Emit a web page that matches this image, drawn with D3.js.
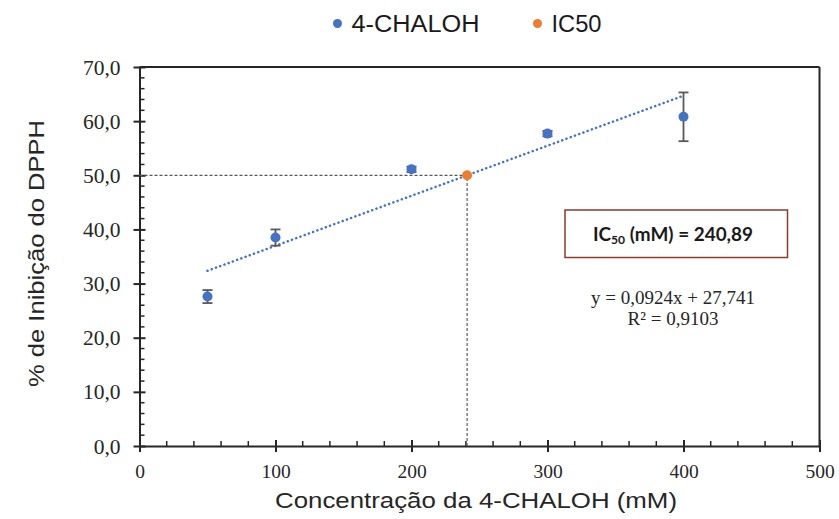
<!DOCTYPE html>
<html>
<head>
<meta charset="utf-8">
<script src="https://cdn.jsdelivr.net/npm/d3@7"></script>
<style>
  html, body { margin: 0; padding: 0; background: #fff; }
  svg { display: block; }
</style>
</head>
<body>
<svg id="chart" width="839" height="519"></svg>
<script>
// Concentration (mM) and % DPPH inhibition, with standard deviations
const concentrations = [50, 100, 200, 300, 400];
const inhibition = [27.6, 38.5, 51.1, 57.7, 60.8];
const errors = [1.2, 1.5, 0.5, 0.5, 4.5];

// Linear fit y = a x + b and the derived IC50
const slope = 0.0924;
const intercept = 27.741;
const rSquared = 0.9103;
const ic50 = 240.89;
const ic50Value = 50;

const xTicks = [0, 100, 200, 300, 400, 500];
const yTicks = [0, 10, 20, 30, 40, 50, 60, 70];

const seriesNames = ["4-CHALOH", "IC50"];
const seriesColors = ["#4472C4", "#ED7D31"];

const svg = d3.select("#chart");
const plotLeft = 139.5, plotRight = 819.5, plotTop = 67, plotBottom = 446;

const x = d3.scaleLinear().domain([0, 500]).range([plotLeft, plotRight]);
const y = d3.scaleLinear().domain([0, 70]).range([plotBottom, plotTop]);

const axisColor = "#262626";
const serif = "'Liberation Serif', 'Times New Roman', serif";
const sans = "'Liberation Sans', Arial, sans-serif";
const comma = v => String(v).replace(".", ",");

// Frame: top and right borders
svg.append("line").attr("x1", plotLeft).attr("x2", plotRight).attr("y1", plotTop).attr("y2", plotTop)
  .attr("stroke", axisColor).attr("stroke-width", 2);
svg.append("line").attr("x1", plotRight).attr("x2", plotRight).attr("y1", plotTop).attr("y2", plotBottom)
  .attr("stroke", axisColor).attr("stroke-width", 2);

// Minor ticks (inside)
const xMinor = d3.range(0, 501, 20).filter(v => v % 100 !== 0);
svg.append("g").selectAll("line").data(xMinor).join("line")
  .attr("x1", d => x(d)).attr("x2", d => x(d))
  .attr("y1", plotBottom).attr("y2", plotBottom - 5)
  .attr("stroke", axisColor).attr("stroke-width", 1.5);
const yMinor = d3.range(0, 70.01, 2).filter(v => v % 10 !== 0);
svg.append("g").selectAll("line").data(yMinor).join("line")
  .attr("x1", plotLeft).attr("x2", plotLeft + 5)
  .attr("y1", d => y(d)).attr("y2", d => y(d))
  .attr("stroke", axisColor).attr("stroke-width", 1.5);

// Axes with crossing major ticks
const fmtY = d => d.toFixed(1).replace(".", ",");
const xAxis = svg.append("g").attr("transform", `translate(0,${plotBottom})`)
  .call(d3.axisBottom(x).tickValues(xTicks).tickSizeInner(12).tickSizeOuter(0).tickPadding(2).tickFormat(d3.format("d")));
xAxis.selectAll(".tick line").attr("y1", -6).attr("y2", 6);
const yAxis = svg.append("g").attr("transform", `translate(${plotLeft},0)`)
  .call(d3.axisLeft(y).tickValues(yTicks).tickSizeInner(12).tickSizeOuter(0).tickPadding(2).tickFormat(fmtY));
yAxis.selectAll(".tick line").attr("x1", -6).attr("x2", 6);
[xAxis, yAxis].forEach(g => {
  g.select(".domain").attr("stroke", axisColor).attr("stroke-width", 2);
  g.selectAll(".tick line").attr("stroke", axisColor).attr("stroke-width", 2);
  g.selectAll("text").attr("fill", "#262626").style("font-family", serif);
});
xAxis.selectAll("text").style("font-size", "19.5px").attr("y", 32).attr("dy", 0);
yAxis.selectAll("text").style("font-size", "21.5px").attr("x", -19).attr("dy", "0.33em");

// Guide lines to the IC50 point
svg.append("line").attr("x1", x(0)).attr("x2", x(ic50)).attr("y1", y(ic50Value)).attr("y2", y(ic50Value))
  .attr("stroke", "#595959").attr("stroke-width", 1.2).attr("stroke-dasharray", "3,2");
svg.append("line").attr("x1", x(ic50)).attr("x2", x(ic50)).attr("y1", y(0)).attr("y2", y(ic50Value))
  .attr("stroke", "#595959").attr("stroke-width", 1.2).attr("stroke-dasharray", "3,2");

// Dotted linear trendline over the measured range
const fitX = d3.extent(concentrations);
svg.append("line")
  .attr("x1", x(fitX[0])).attr("y1", y(slope * fitX[0] + intercept))
  .attr("x2", x(fitX[1])).attr("y2", y(slope * fitX[1] + intercept))
  .attr("stroke", seriesColors[0]).attr("stroke-width", 2.5)
  .attr("stroke-dasharray", "0.1,4.4").attr("stroke-linecap", "round");

// Error bars
const eb = svg.append("g").attr("stroke", "#595959").attr("stroke-width", 1.8);
concentrations.forEach((c, i) => {
  const cx = x(c), hi = y(inhibition[i] + errors[i]), lo = y(inhibition[i] - errors[i]);
  eb.append("line").attr("x1", cx).attr("x2", cx).attr("y1", hi).attr("y2", lo);
  eb.append("line").attr("x1", cx - 5).attr("x2", cx + 5).attr("y1", hi).attr("y2", hi);
  eb.append("line").attr("x1", cx - 5).attr("x2", cx + 5).attr("y1", lo).attr("y2", lo);
});

// Data markers
svg.append("g").selectAll("circle").data(concentrations).join("circle")
  .attr("cx", d => x(d)).attr("cy", (d, i) => y(inhibition[i])).attr("r", 5)
  .attr("fill", seriesColors[0]);
svg.append("circle").attr("cx", x(ic50)).attr("cy", y(ic50Value)).attr("r", 5)
  .attr("fill", seriesColors[1]);

// IC50 result box
const box = svg.append("g");
box.append("rect").attr("x", 565).attr("y", 210).attr("width", 222.5).attr("height", 47.5)
  .attr("fill", "#fff").attr("stroke", "#8B3A2B").attr("stroke-width", 1.5);
const boxText = box.append("text").attr("x", 673).attr("y", 241).attr("text-anchor", "middle")
  .attr("textLength", 160).attr("lengthAdjust", "spacingAndGlyphs")
  .style("font-family", "Lato, 'Open Sans', sans-serif").style("font-weight", "bold")
  .style("font-size", "18px").attr("fill", "#1a1a1a");
boxText.append("tspan").text("IC");
boxText.append("tspan").text("50").style("font-size", "11.5px").attr("dy", 3);
boxText.append("tspan").text(` (mM) = ${ic50.toFixed(2).replace(".", ",")}`).attr("dy", -3);

// Regression equation
const eq = svg.append("text").attr("text-anchor", "middle")
  .style("font-family", serif).style("font-size", "19px").attr("fill", "#262626");
eq.append("tspan").attr("x", 673).attr("y", 304)
  .text(`y = ${comma(slope)}x + ${comma(intercept)}`);
eq.append("tspan").attr("x", 673).attr("y", 325).text(`R² = ${comma(rSquared)}`);

// Axis titles
svg.append("text").attr("x", 476).attr("y", 508).attr("text-anchor", "middle")
  .attr("textLength", 402).attr("lengthAdjust", "spacingAndGlyphs")
  .style("font-family", sans).style("font-size", "21.5px").attr("fill", "#262626")
  .text("Concentração da 4-CHALOH (mM)");
svg.append("text").attr("transform", "translate(44,253.5) rotate(-90)").attr("text-anchor", "middle")
  .attr("textLength", 267).attr("lengthAdjust", "spacingAndGlyphs")
  .style("font-family", sans).style("font-size", "22px").attr("fill", "#262626")
  .text("% de Inibição do DPPH");

// Legend
const legendX = [337.5, 537.5];
const legendLen = [128, 50];
const legend = svg.append("g").selectAll("g").data(seriesNames).join("g")
  .attr("transform", (d, i) => `translate(${legendX[i]},23.5)`);
legend.append("circle").attr("r", 4.5).attr("fill", (d, i) => seriesColors[i]);
legend.append("text").attr("x", 14).attr("y", 8.2)
  .attr("textLength", (d, i) => legendLen[i]).attr("lengthAdjust", "spacingAndGlyphs")
  .style("font-family", sans).style("font-size", "23px").attr("fill", "#1a1a1a")
  .text(d => d);
</script>
</body>
</html>
